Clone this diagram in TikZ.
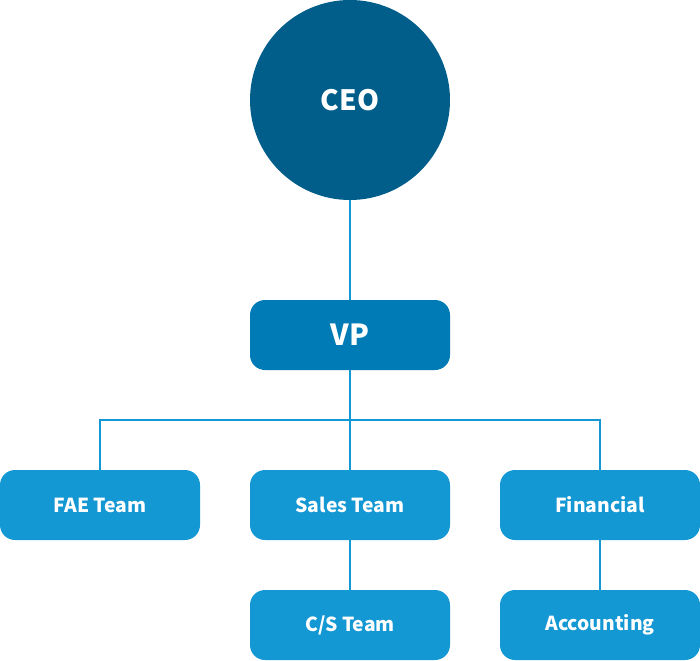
\documentclass[tikz,border=0pt]{standalone}
\usepackage{fontspec}
\setmainfont{Noto Sans CJK KR}
\begin{document}
\begin{tikzpicture}[x=1pt,y=-1pt,
  ceoc/.style={circle,fill=ceoblue,minimum size=200pt,inner sep=0pt,text=white,font=\fontsize{28}{32}\selectfont\bfseries},
  vpbox/.style={rounded corners=15pt,fill=vpblue,minimum width=200pt,minimum height=70pt,inner sep=0pt,text=white,font=\fontsize{29}{32}\selectfont\bfseries},
  teambox/.style={rounded corners=15pt,fill=teamblue,minimum width=200pt,minimum height=70pt,inner sep=0pt,text=white,font=\fontsize{19.3}{24}\selectfont\bfseries},
  conn/.style={draw=teamblue,line width=2pt}]
\definecolor{ceoblue}{HTML}{015E8A}
\definecolor{vpblue}{HTML}{007BB5}
\definecolor{teamblue}{HTML}{1398D4}
\useasboundingbox (0,0) rectangle (700,660);
\node[ceoc] (ceo) at (350,100) {CEO};
\node[vpbox] (vp) at (350,335) {VP};
\node[teambox] (fae) at (100,505) {FAE Team};
\node[teambox] (sales) at (350,505) {Sales Team};
\node[teambox] (fin) at (600,505) {Financial};
\node[teambox] (cs) at (350,625) {C/S Team};
\node[teambox] (acc) at (600,625) {Accounting};
\coordinate (bus) at (350,420);
\draw[conn] (ceo.south) -- (vp.north);
\draw[conn] (vp.south) -- (sales.north);
\draw[conn] (fae.north) |- (bus) -| (fin.north);
\draw[conn] (sales.south) -- (cs.north);
\draw[conn] (fin.south) -- (acc.north);
\end{tikzpicture}
\end{document}
